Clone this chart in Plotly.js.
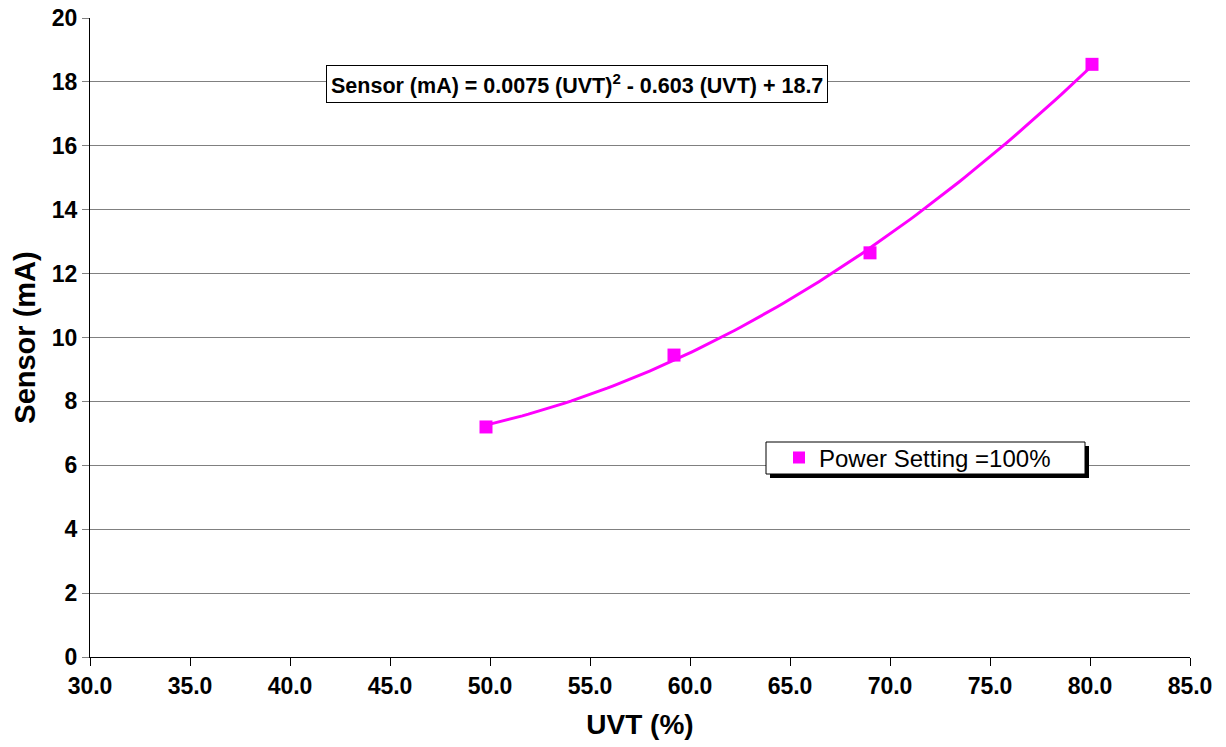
<!DOCTYPE html>
<html><head><meta charset="utf-8">
<script src="https://cdn.plot.ly/plotly-3.0.1.min.js"></script>
<style>body{margin:0;background:#fff}#c{width:1226px;height:747px}</style>
</head><body><div id="c"></div>
<script>
const uvt = [49.8, 59.2, 69.0, 80.1];
const sensor = [7.2, 9.45, 12.65, 18.55];
const seriesName = 'Power Setting =100%';
const equation = 'Sensor (mA) = 0.0075 (UVT)<sup>2</sup> - 0.603 (UVT) + 18.7';
const xTicks = [30, 35, 40, 45, 50, 55, 60, 65, 70, 75, 80, 85];
const yTicks = [0, 2, 4, 6, 8, 10, 12, 14, 16, 18, 20];

// least-squares quadratic trendline derived from the data arrays
function quadFit(xs, ys) {
  const n = xs.length; let S = [0,0,0,0,0], T = [0,0,0];
  for (let i = 0; i < n; i++) { let p = 1; for (let k = 0; k < 5; k++) { S[k] += p; if (k < 3) T[k] += p * ys[i]; p *= xs[i]; } }
  const A = [[S[0],S[1],S[2],T[0]],[S[1],S[2],S[3],T[1]],[S[2],S[3],S[4],T[2]]];
  for (let i = 0; i < 3; i++) { for (let j = i+1; j < 3; j++) { const f = A[j][i]/A[i][i]; for (let k = i; k < 4; k++) A[j][k] -= f*A[i][k]; } }
  const c = [0,0,0];
  for (let i = 2; i >= 0; i--) { let s = A[i][3]; for (let k = i+1; k < 3; k++) s -= A[i][k]*c[k]; c[i] = s/A[i][i]; }
  return c;
}
const coef = quadFit(uvt, sensor);
const tx = [], ty = [];
const x0 = Math.min(...uvt), x1 = Math.max(...uvt);
for (let i = 0; i <= 100; i++) { const x = x0 + (x1 - x0) * i / 100; tx.push(x); ty.push(coef[0] + coef[1]*x + coef[2]*x*x); }

const F = 'Liberation Sans, Arial, sans-serif';
const traces = [
  {x: tx, y: ty, mode: 'lines', line: {color: '#FF00FF', width: 3}, showlegend: false, hoverinfo: 'skip'},
  {x: uvt, y: sensor, mode: 'markers', name: seriesName, marker: {symbol: 'square', size: 13, color: '#FF00FF'}}
];
const px = v => (v - 90) / 1100;
const py = v => (657 - v) / 639;
const layout = {
  width: 1226, height: 747,
  margin: {l: 90, r: 36, t: 18, b: 90},
  paper_bgcolor: '#fff', plot_bgcolor: '#fff',
  font: {family: F, color: '#000'},
  xaxis: {
    range: [30, 85], tickvals: xTicks, ticktext: xTicks.map(v => v.toFixed(1)),
    showgrid: false, zeroline: false, showline: true, linecolor: '#000', linewidth: 1,
    ticks: 'outside', ticklen: 8, tickcolor: '#000',
    tickfont: {family: F, size: 23, color: '#000', weight: 'bold'},
    title: {text: '<b>UVT (%)</b>', font: {family: F, size: 28, color: '#000'}, standoff: 16}
  },
  yaxis: {
    range: [0, 20], tickvals: yTicks,
    showgrid: true, gridcolor: '#808080', gridwidth: 1, zeroline: false,
    showline: true, linecolor: '#000', linewidth: 1,
    ticks: 'outside', ticklen: 7, tickcolor: '#808080',
    tickfont: {family: F, size: 23, color: '#000', weight: 'bold'},
    title: {text: '<b>Sensor (mA)</b>', font: {family: F, size: 29, color: '#000'}, standoff: 7}
  },
  legend: {
    x: px(779), y: py(458), xanchor: 'left', yanchor: 'middle',
    bgcolor: 'rgba(0,0,0,0)', borderwidth: 0,
    font: {family: F, size: 24, color: '#000'},
    itemsizing: 'constant'
  },
  shapes: [
    {type: 'rect', xref: 'paper', yref: 'paper', x0: px(770), x1: px(1089), y0: py(478), y1: py(446),
     fillcolor: '#000', line: {width: 0}, layer: 'above'},
    {type: 'rect', xref: 'paper', yref: 'paper', x0: px(766), x1: px(1085), y0: py(474), y1: py(442),
     fillcolor: '#fff', line: {width: 1, color: '#000'}, layer: 'above'}
  ],
  annotations: [
    {xref: 'paper', yref: 'paper', x: px(577), y: py(84), xanchor: 'center', yanchor: 'middle',
     text: '<b>' + equation + '</b>', showarrow: false,
     font: {family: F, size: 21.5, color: '#000'},
     bgcolor: '#fff', bordercolor: '#000', borderwidth: 1, borderpad: 4}
  ]
};
Plotly.newPlot('c', traces, layout, {displayModeBar: false, staticPlot: true});
</script>
</body></html>
